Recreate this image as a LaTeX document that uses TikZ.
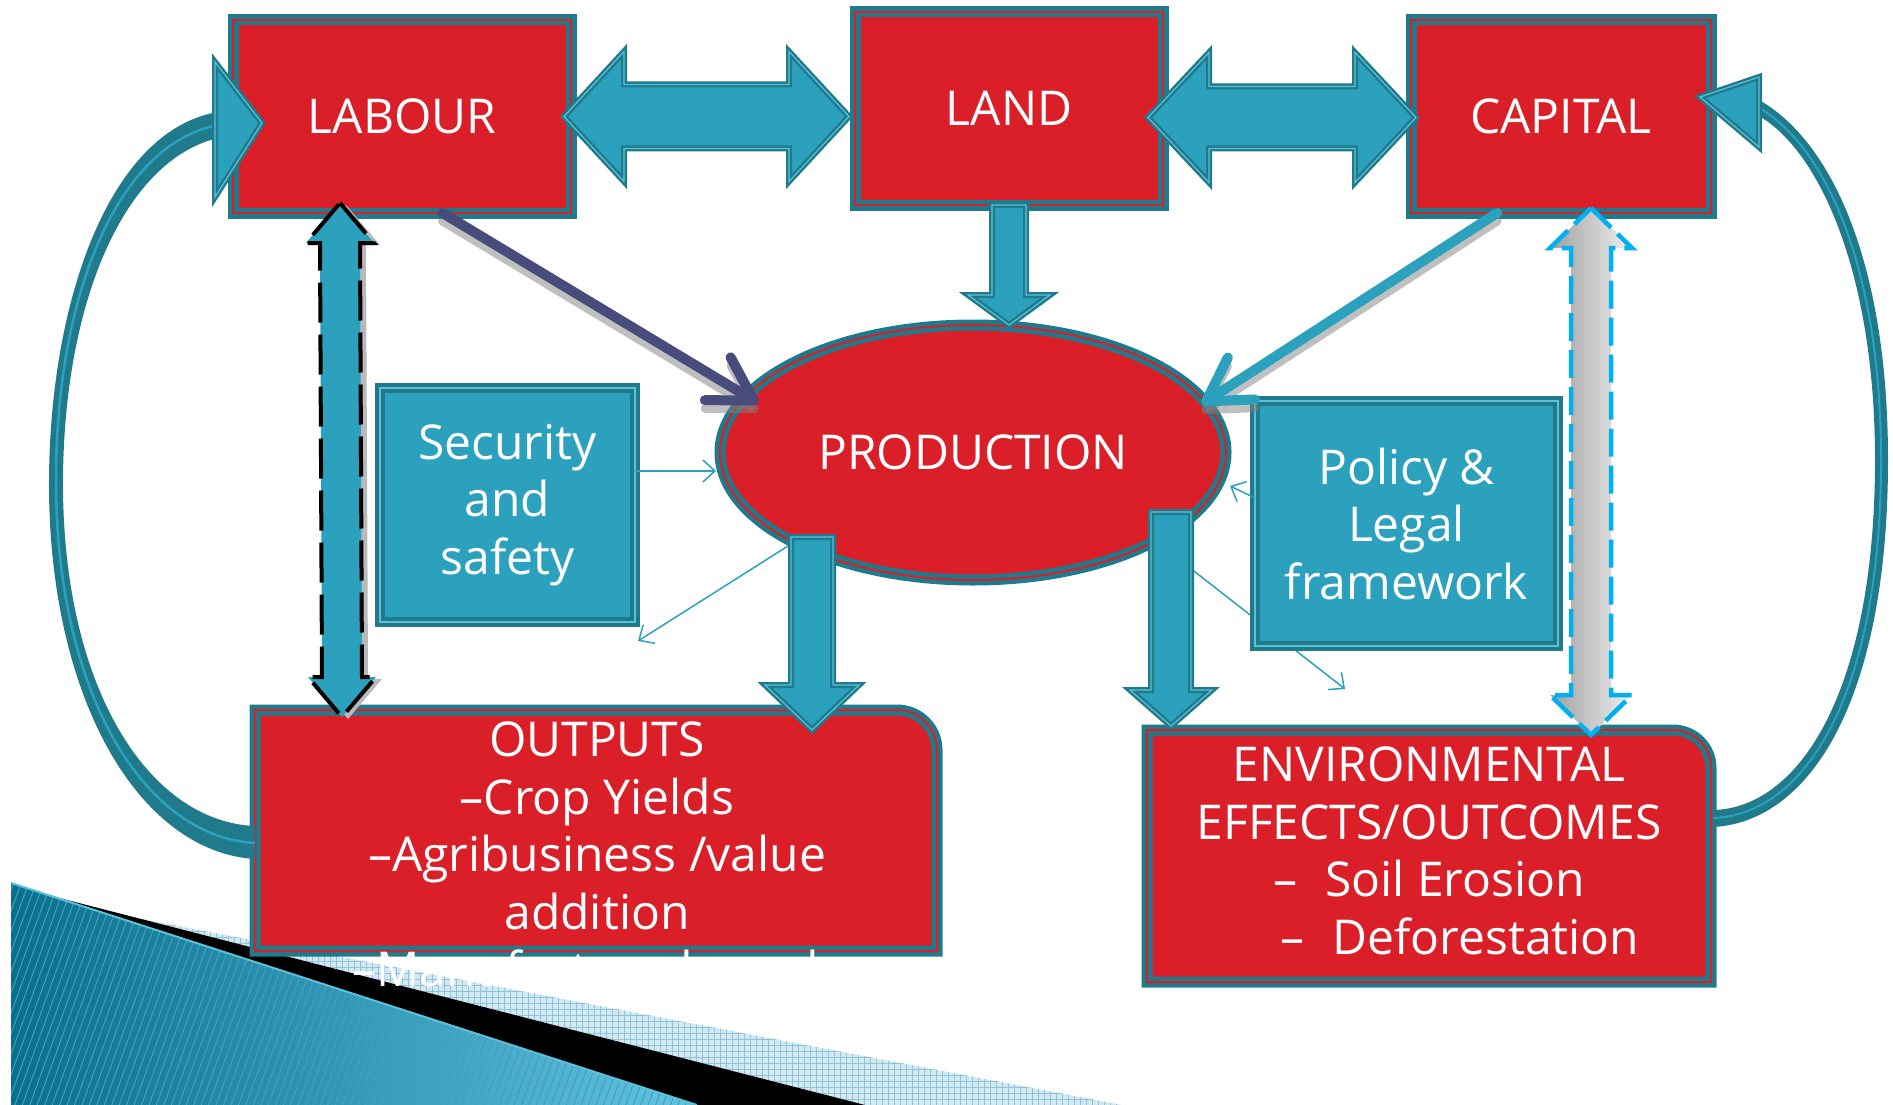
\documentclass[tikz,border=0pt]{standalone}
\usepackage{fontspec}
\setmainfont{Open Sans}
\usetikzlibrary{calc,shapes.geometric,arrows.meta,patterns.meta}
\definecolor{cRed}{HTML}{DA1F28}
\definecolor{cDark}{HTML}{1F7A8C}
\definecolor{cTeal}{HTML}{2CA1BE}
\definecolor{cLight}{HTML}{5CC0D8}
\definecolor{cNavy}{HTML}{474C7A}
\definecolor{cSky}{HTML}{00B0F0}
\definecolor{cDecoA}{HTML}{06708F}
\definecolor{cDecoB}{HTML}{5EC4E4}
\definecolor{cCheck}{HTML}{D3E9F2}
\definecolor{cGrid}{HTML}{8EC3DA}
\newcommand\BigT{\fontsize{48}{57.5}\selectfont}
% horizontal double block arrow: style, left tip, right tip, head length, head half, shaft half
\newcommand\HArrowD[6]{\path[#1] ($#2$) -- ($#2+(#4,-#5)$) -- ($#2+(#4,-#6)$) -- ($#3+(-#4,-#6)$) -- ($#3+(-#4,-#5)$) -- ($#3$) -- ($#3+(-#4,#5)$) -- ($#3+(-#4,#6)$) -- ($#2+(#4,#6)$) -- ($#2+(#4,#5)$) -- cycle;}
% vertical double block arrow: style, top tip, bottom tip, head length, head half, shaft half
\newcommand\VArrowD[6]{\path[#1] ($#2$) -- ($#2+(#5,#4)$) -- ($#2+(#6,#4)$) -- ($#3+(#6,-#4)$) -- ($#3+(#5,-#4)$) -- ($#3$) -- ($#3+(-#5,-#4)$) -- ($#3+(-#6,-#4)$) -- ($#2+(-#6,#4)$) -- ($#2+(-#5,#4)$) -- cycle;}
% vertical single block arrow (down): style, shaft top centre, tip, head length, head half, shaft half
\newcommand\VArrowS[6]{\path[#1] ($#2+(-#6,0)$) -- ($#2+(#6,0)$) -- ($#3+(#6,-#4)$) -- ($#3+(#5,-#4)$) -- ($#3$) -- ($#3+(-#5,-#4)$) -- ($#3+(-#6,-#4)$) -- cycle;}
\begin{document}
\begin{tikzpicture}[x=1pt,y=-1pt,
  redbox/.style={rectangle, fill=cRed, draw=cDark, double=cRed, line width=4.5pt, double distance=2pt, text=white, font=\BigT, inner sep=0pt, outer sep=0pt, align=center},
  redshape/.style={fill=cRed, draw=cDark, double=cRed, line width=4.5pt, double distance=2pt},
  bluebox/.style={rectangle, fill=cTeal, draw=cDark, double=cLight, line width=4.5pt, double distance=1.5pt, text=white, font=\BigT, inner sep=0pt, outer sep=0pt, align=center},
  holder/.style={rectangle, inner sep=0pt, outer sep=0pt},
  wtext/.style={text=white, font=\BigT, align=center, inner sep=0pt},
  blockarrow/.style={fill=cTeal, draw=cDark, line width=6pt, line join=miter, postaction={draw=cLight, line width=1.2pt}},
  thinarrow/.style={draw=cTeal, line width=1.5pt, -{Straight Barb[length=12pt,width=22pt]}},
  band/.style={fill=cDark},
  bandline/.style={draw=cTeal, line width=2.5pt},
]
\useasboundingbox (0,0) rectangle (1893,1105);
\fill[white] (0,0) rectangle (1893,1105);

% ---- corner decoration ----
\fill[cCheck] (125,916) -- (1122,1105) -- (865,1105) -- cycle;
\fill[pattern={Hatch[angle=0,distance=6pt,line width=0.8pt]}, pattern color=cGrid] (125,916) -- (1122,1105) -- (865,1105) -- cycle;
\fill[black] (40,893) -- (865,1105) -- (697,1105) -- cycle;
\shade[left color=cDecoA, right color=cDecoB] (11,883) -- (697,1105) -- (11,1105) -- cycle;
\fill[pattern={Lines[angle=70,distance=7pt,line width=1pt]}, pattern color=cDecoA!70] (11,883) -- (697,1105) -- (11,1105) -- cycle;
\draw[cLight, line width=2pt] (11,883) -- (697,1105);

% ---- nodes ----
\node[redbox, minimum width=338pt, minimum height=193pt] (lab) at (402,116.5) {LABOUR};
\node[redbox, minimum width=308pt, minimum height=193pt] (land) at (1009,108.5) {LAND};
\node[redbox, minimum width=300pt, minimum height=193pt] (cap) at (1561,116.5) {CAPITAL};
\node[bluebox, minimum width=255pt, minimum height=234pt] (sec) at (507.5,505) {Security\\and\\safety};
\node[redbox, ellipse, minimum width=506pt, minimum height=255pt] (prod) at (973,452.5) {PRODUCTION};

\coordinate (c1) at (638,641);
\coordinate (c2) at (1345,689);
\draw[thinarrow] ($(prod.center)+(217,115.5)$) -- (c2);

\node[bluebox, minimum width=303pt, minimum height=245pt] (pol) at (1406.5,523.5) {Policy \&\\Legal\\framework};

\node[holder, minimum width=682pt, minimum height=241pt] (out) at (596,830.5) {};
\path[redshape] (out.south west) -- (out.north west) -- ($(out.north east)+(-40,0)$) arc[start angle=90,end angle=0,radius=40pt] -- (out.south east) -- cycle;
\node[holder, minimum width=564pt, minimum height=252pt] (env) at (1429,856) {};
\path[redshape] (env.south west) -- (env.north west) -- ($(env.north east)+(-38,0)$) arc[start angle=90,end angle=0,radius=38pt] -- (env.south east) -- cycle;

\node[wtext] (outtxt) at (597,860) {OUTPUTS\\–Crop Yields\\–Agribusiness /value\\addition\\–Manufactured goods};
\node[wtext] (envtxt) at (1429,851) {ENVIRONMENTAL\\EFFECTS/OUTCOMES\\–\hspace{28pt}Soil Erosion\\\hspace*{62pt}–\hspace{28pt}Deforestation};

% ---- curved return arrows ----
\path[band] ($(out.west)+(0,28.5)$) .. controls (140,852) and (48,700) .. (49,480) .. controls (50,300) and (110,130) .. (218,112) -- (218,138) .. controls (125,160) and (64,300) .. (63,480) .. controls (62,690) and (150,822) .. ($(out.west)+(0,-4.5)$) -- cycle;
\draw[bandline] ($(out.west)+(0,12.5)$) .. controls (145,837) and (56,695) .. (56,480) .. controls (56,300) and (115,145) .. (218,125);
\path[blockarrow] ($(lab.west)+(-18,-54.5)$) -- ($(lab.west)+(29,6.5)$) -- ($(lab.west)+(-18,80.5)$) -- cycle;

\path[band] ($(env.east)+(2,-29)$) .. controls (1810,822) and (1888,700) .. (1888,460) .. controls (1888,260) and (1830,140) .. (1759,100) -- (1759,116) .. controls (1818,150) and (1875,270) .. (1875,460) .. controls (1875,690) and (1800,808) .. ($(env.east)+(2,-46)$) -- cycle;
\draw[bandline, line width=2pt] ($(env.east)+(2,-38)$) .. controls (1805,815) and (1881,695) .. (1881,460) .. controls (1881,265) and (1824,145) .. (1759,108);
\path[blockarrow] ($(cap.east)+(48,-39.5)$) -- ($(cap.east)+(-11,-19.5)$) -- ($(cap.east)+(48,30.5)$) -- cycle;

% ---- block arrows ----
\HArrowD{blockarrow}{(lab.east)+(-7,0)}{(land.west |- lab.east)+(-6,0)}{60}{65}{32}
\HArrowD{blockarrow}{(land.east |- cap.west)+(-15,1)}{(cap.west)+(5,1)}{61}{65}{31}
\VArrowS{blockarrow}{(land.south)}{(land.south |- prod.north)}{30}{41}{17}
\VArrowS{blockarrow}{(prod.center)+(-161,84.5)}{(out.north west)+(557,20)}{45}{47}{21}
\VArrowS{blockarrow}{(prod.center)+(198,59.5)}{(env.north west)+(24,-4)}{36}{41}{20}

% ---- vertical double arrows ----
\VArrowD{fill=gray!55}{(lab.south west)+(113,-8)}{(out.north west)+(93,9)}{40}{34}{20}
\VArrowD{fill=cTeal, draw=black, line width=4pt, dash pattern=on 40pt off 12pt}{(lab.south west)+(107,-10)}{(out.north west)+(87,7)}{40}{34}{20}
\VArrowD{left color=gray!75, right color=gray!12, draw=cSky, line width=4.5pt, dash pattern=on 28pt off 9pt}{(cap.south west)+(180,-5)}{(env.north west)+(444,5)}{40}{41}{20}

% ---- diagonal arrows ----
\draw[gray, opacity=0.5, line width=9pt, line cap=round, -{Straight Barb[length=42pt,width=50pt,round]}] ($(lab.south west)!0.62!(lab.south east)+(0,8)$) -- ($(prod.center)+(-215,-41.5)$);
\draw[cNavy, line width=10pt, line cap=round, -{Straight Barb[length=42pt,width=50pt,round]}] ($(lab.south west)!0.62!(lab.south east)$) -- ($(prod.center)+(-215,-49.5)$);
\draw[gray, opacity=0.5, line width=9pt, line cap=round, -{Straight Barb[length=42pt,width=50pt,round]}] ($(cap.south west)!0.287!(cap.south east)+(0,8)$) -- ($(prod.center)+(229,-40.5)$);
\draw[cTeal, line width=10pt, line cap=round, -{Straight Barb[length=42pt,width=50pt,round]}] ($(cap.south west)!0.287!(cap.south east)$) -- ($(prod.center)+(229,-48.5)$);

% ---- thin arrows ----
\draw[thinarrow] ($(sec.east)+(0,-34)$) -- ($(prod.center)+(-257,18.5)$);
\draw[thinarrow] ($(prod.center)+(-185,93.5)$) -- (c1);
\draw[thinarrow] ($(pol.west)+(0,-25.5)$) -- ($(prod.center)+(257,33.5)$);
\end{tikzpicture}
\end{document}
